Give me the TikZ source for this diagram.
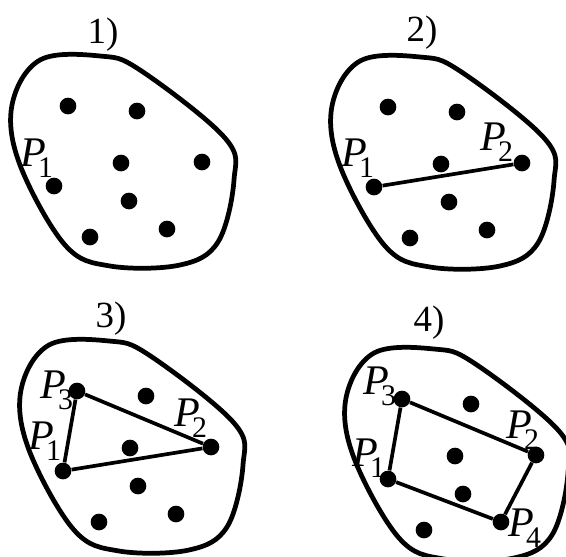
\documentclass[tikz,border=0pt]{standalone}
\usepackage{fontspec}
\setmainfont{Liberation Serif}
\newcommand{\Plab}[1]{\textit{P}\kern-0.2em\raisebox{-0.26em}{\fontsize{17}{19}\selectfont #1}}
\tikzset{
  pt/.style={circle, fill=black, inner sep=0pt, minimum size=9.5pt},
  region/.style={line width=2.7pt, line join=round},
  hull/.style={line width=2.1pt},
  head/.style={font=\fontsize{21}{23}\selectfont, inner sep=0pt},
  plab/.style={font=\fontsize{24}{26}\selectfont, inner sep=0pt},
}
\begin{document}
\begin{tikzpicture}[x=0.02cm, y=-0.02cm]
    \useasboundingbox (0,0) rectangle (566,556);

    % 1) the point set
    \begin{scope}
    \draw[region] plot[smooth cycle, tension=0.6] coordinates {(12,105) (40,60) (100,56) (140,70) (225,138) (234,180) (218,242) (180,265) (110,266) (65,245) (20,165)};
    \node[head] (t1) at (103,35) {1)};
    \node[pt] (a1) at (68,106) {};
    \node[pt] (a2) at (137,111) {};
    \node[pt] (a3) at (121,163) {};
    \node[pt] (a4) at (202,162) {};
    \node[pt] (a5) at (54,186) {};
    \node[pt] (a6) at (129,201) {};
    \node[pt] (a7) at (90,237) {};
    \node[pt] (a8) at (167,229) {};
    \node[plab] (la5) at (37,158) {\Plab{1}};
    \end{scope}

    % 2) first edge
    \begin{scope}[shift={(320,1)}]
    \draw[region] plot[smooth cycle, tension=0.6] coordinates {(12,105) (40,60) (100,56) (140,70) (225,138) (234,180) (218,242) (180,265) (110,266) (65,245) (20,165)};
    \node[head] (t2) at (102,32) {2)};
    \node[pt] (b1) at (68,106) {};
    \node[pt] (b2) at (137,111) {};
    \node[pt] (b3) at (121,163) {};
    \node[pt] (b4) at (202,162) {};
    \node[pt] (b5) at (54,186) {};
    \node[pt] (b6) at (129,201) {};
    \node[pt] (b7) at (90,237) {};
    \node[pt] (b8) at (167,229) {};
    \node[plab] (lb5) at (38,157) {\Plab{1}};
    \node[plab] (lb4) at (177,141) {\Plab{2}};
    \draw[hull] (b5) -- (b4);
    \end{scope}

    % 3) triangle
    \begin{scope}[shift={(9,285)}]
    \draw[region] plot[smooth cycle, tension=0.6] coordinates {(12,105) (40,60) (100,56) (140,70) (225,138) (234,180) (218,242) (180,265) (110,266) (65,245) (20,165)};
    \node[head] (t3) at (102,34) {3)};
    \node[pt] (c1) at (68,106) {};
    \node[pt] (c2) at (137,111) {};
    \node[pt] (c3) at (121,163) {};
    \node[pt] (c4) at (202,162) {};
    \node[pt] (c5) at (54,186) {};
    \node[pt] (c6) at (129,201) {};
    \node[pt] (c7) at (90,237) {};
    \node[pt] (c8) at (167,229) {};
    \node[plab] (lc1) at (48,105) {\Plab{3}};
    \node[plab] (lc4) at (182,133) {\Plab{2}};
    \node[plab] (lc5) at (36,156) {\Plab{1}};
    \draw[hull] (c5) -- (c1) -- (c4) -- (c5);
    \end{scope}

    % 4) quadrilateral
    \begin{scope}[shift={(334,293)}]
    \draw[region] plot[smooth cycle, tension=0.6] coordinates {(12,105) (40,60) (100,56) (140,70) (225,138) (234,180) (218,242) (180,265) (110,266) (65,245) (20,165)};
    \node[head] (t4) at (95,30) {4)};
    \node[pt] (d1) at (68,106) {};
    \node[pt] (d2) at (137,111) {};
    \node[pt] (d3) at (121,163) {};
    \node[pt] (d4) at (202,162) {};
    \node[pt] (d5) at (54,186) {};
    \node[pt] (d6) at (129,201) {};
    \node[pt] (d7) at (90,237) {};
    \node[pt] (d8) at (167,229) {};
    \node[plab] (ld1) at (46,93) {\Plab{3}};
    \node[plab] (ld4) at (189,137) {\Plab{2}};
    \node[plab] (ld5) at (35,165) {\Plab{1}};
    \node[plab] (ld8) at (191,235) {\Plab{4}};
    \draw[hull] (d5) -- (d1) -- (d4) -- (d8) -- (d5);
    \end{scope}
\end{tikzpicture}
\end{document}
